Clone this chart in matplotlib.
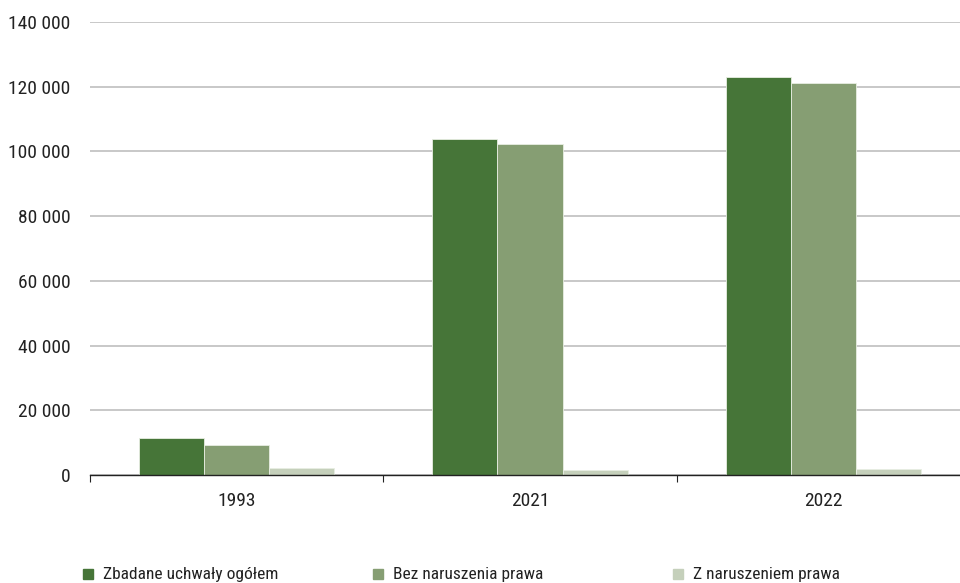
import matplotlib
matplotlib.use("Agg")
import matplotlib.pyplot as plt
import matplotlib.font_manager as fm
from matplotlib.patches import Rectangle
import numpy as np
from matplotlib.ticker import FuncFormatter

years = ["1993", "2021", "2022"]
series_names = ["Zbadane uchwały ogółem", "Bez naruszenia prawa", "Z naruszeniem prawa"]
total = [11500, 103800, 122900]
lawful = [9300, 102400, 121100]
unlawful = [2200, 1400, 1800]
colors = ["#467538", "#869e73", "#c5d0bb"]

# prefer a narrow sans if one is installed
installed = {f.name for f in fm.fontManager.ttflist}
family, fsize, lsize = "Liberation Sans", 12, 11.5
for cand in ["Liberation Sans Narrow", "Roboto Condensed", "Open Sans Condensed",
             "Noto Sans Condensed"]:
    if cand in installed:
        family, fsize, lsize = cand, 14, 12.5
        break
plt.rcParams["font.family"] = [family, "DejaVu Sans"]
txt = "#222222"

W, H = 960, 583
fig = plt.figure(figsize=(W / 100, H / 100), dpi=100)
ax = fig.add_axes([90 / W, 1 - 475 / H, 880 / W, (475 - 22) / H])

x = np.arange(len(years))
w = 0.222
for i, (vals, c) in enumerate(zip([total, lawful, unlawful], colors)):
    ax.bar(x + (i - 1) * w, vals, width=w, color=c, edgecolor="#e8eee2",
           linewidth=0.6, zorder=3)

ax.set_xlim(-0.5, 2.5)
ax.set_ylim(0, 140000)
ax.set_yticks(range(0, 140001, 20000))
ax.yaxis.set_major_formatter(FuncFormatter(lambda v, p: f"{int(v):,}".replace(",", " ")))
ax.yaxis.grid(True, color="#bfbfbf", linewidth=1.2, zorder=0)
ax.tick_params(axis="y", length=0, pad=14, labelsize=fsize, labelcolor=txt)

# group separators as major ticks, year labels as minor ticks
ax.set_xticks([-0.5, 0.5, 1.5, 2.5])
ax.set_xticklabels([])
ax.set_xticks(x, minor=True)
ax.set_xticklabels(years, minor=True)
ax.tick_params(axis="x", which="major", length=5, direction="out", color=txt)
ax.tick_params(axis="x", which="minor", length=0, pad=12, labelsize=fsize, labelcolor=txt)

for s in ["top", "right", "left"]:
    ax.spines[s].set_visible(False)
ax.spines["bottom"].set_color(txt)
ax.spines["bottom"].set_linewidth(1.0)
ax.spines["bottom"].set_zorder(4)

# legend row along the bottom
leg_x = [83, 373, 673]
for lx, name, c in zip(leg_x, series_names, colors):
    fig.add_artist(Rectangle((lx / W, 1 - 579 / H), 10 / W, 10 / H,
                             transform=fig.transFigure, color=c))
    fig.text((lx + 20) / W, 1 - 574 / H, name, fontsize=lsize, color=txt,
             va="center", ha="left")

fig.savefig("out.png", dpi=100)
